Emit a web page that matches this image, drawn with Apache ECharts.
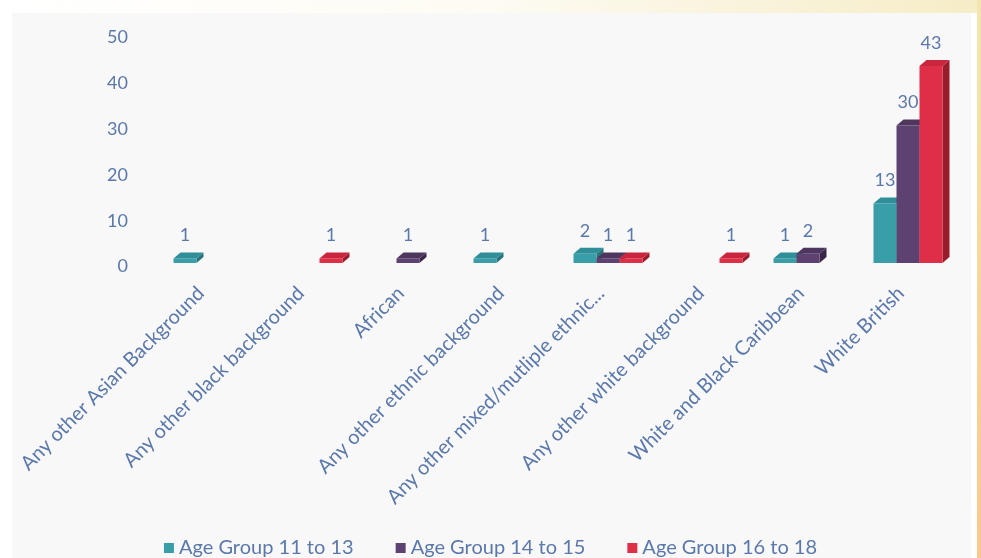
<!DOCTYPE html>
<html>
<head>
<meta charset="utf-8">
<script src="https://cdn.jsdelivr.net/npm/echarts@6/dist/echarts.min.js"></script>
<style>
  html, body { margin: 0; padding: 0; background: #ffffff; }
  #chart { width: 981px; height: 558px; }
</style>
</head>
<body>
<div id="chart"></div>
<script>
// Ethnic background of respondents, counted per age group
const categories = [
  'Any other Asian Background',
  'Any other black background',
  'African',
  'Any other ethnic background',
  'Any other mixed/mutliple ethnic...',
  'Any other white background',
  'White and Black Caribbean',
  'White British'
];
const seriesNames = ['Age Group 11 to 13', 'Age Group 14 to 15', 'Age Group 16 to 18'];
const age11to13 = [1, null, null, 1, 2, null, 1, 13];
const age14to15 = [null, null, 1, null, 1, null, 2, 30];
const age16to18 = [null, 1, null, null, 1, 1, null, 43];
const yTicks = [0, 10, 20, 30, 40, 50];

const TEXT = '#5a78ab';
const FONT = 'Lato, "Open Sans", sans-serif';

// front / top / side shades for each group's 3D column
const shades = [
  { front: '#3a9ea9', top: '#2f8e98', side: '#27747c' },
  { front: '#5d4271', top: '#4e365f', side: '#3a2748' },
  { front: '#df2f48', top: '#c9263d', side: '#9a1c2c' }
];

const DX = 7, DY = -6;

function columnRenderer(idx) {
  const pal = shades[idx];
  return function (params, api) {
    const v = api.value(1);
    if (v == null || isNaN(v)) return null;
    const c = api.value(0);
    const band = api.size([1, 0])[0];
    const bw = band * 0.23;
    const base = api.coord([c, 0]);
    const top = api.coord([c, v]);
    const x0 = base[0] + (idx - 1) * bw - bw / 2;
    const x1 = x0 + bw;
    const yb = base[1];
    const yt = top[1];
    return {
      type: 'group',
      children: [
        { type: 'polygon', shape: { points: [[x1, yt], [x1 + DX, yt + DY], [x1 + DX, yb + DY], [x1, yb]] }, style: { fill: pal.side } },
        { type: 'polygon', shape: { points: [[x0, yt], [x0 + DX, yt + DY], [x1 + DX, yt + DY], [x1, yt]] }, style: { fill: pal.top } },
        { type: 'rect', shape: { x: x0, y: yt, width: bw, height: yb - yt }, style: { fill: pal.front } },
        { type: 'text', z2: 10, style: { text: String(v), x: (x0 + x1) / 2, y: yt + DY - 8, align: 'center', verticalAlign: 'bottom', fill: TEXT, font: '18px ' + FONT } }
      ]
    };
  };
}

const seriesData = [age11to13, age14to15, age16to18];

const chart = echarts.init(document.getElementById('chart'), null, { renderer: 'canvas' });
chart.setOption({
  animation: false,
  backgroundColor: '#ffffff',
  color: shades.map(s => s.front),
  graphic: [
    { type: 'rect', z: -10, shape: { x: 0, y: 0, width: 981, height: 13 },
      style: { fill: new echarts.graphic.LinearGradient(0, 0, 1, 0, [
        { offset: 0, color: '#ffffff' }, { offset: 0.5, color: '#fdfbf3' }, { offset: 1, color: '#f6ecc6' }]) } },
    { type: 'rect', z: -10, shape: { x: 12, y: 13, width: 959, height: 545 }, style: { fill: '#f8f8f8' } },
    { type: 'rect', z: -10, shape: { x: 977, y: 0, width: 4, height: 558 },
      style: { fill: new echarts.graphic.LinearGradient(0, 0, 0, 1, [
        { offset: 0, color: '#f4e6b0' }, { offset: 1, color: '#f9c88e' }]) } }
  ],
  grid: { left: 158, right: 23, top: 34, bottom: 295, containLabel: false },
  legend: {
    bottom: -5,
    left: 'center',
    itemWidth: 10,
    itemHeight: 10,
    itemGap: 42,
    icon: 'rect',
    textStyle: { color: TEXT, fontSize: 20, fontFamily: FONT },
    data: seriesNames
  },
  xAxis: {
    type: 'category',
    data: categories,
    axisLine: { show: false },
    axisTick: { show: false },
    axisLabel: {
      rotate: 45, interval: 0, margin: 20,
      formatter: '{c|{value}}',
      rich: { c: { color: TEXT, fontSize: 20, fontFamily: FONT, padding: [0, 10, 0, 0] } }
    }
  },
  yAxis: {
    type: 'value',
    min: yTicks[0],
    max: yTicks[yTicks.length - 1],
    interval: 10,
    splitLine: { show: false },
    axisLine: { show: false },
    axisTick: { show: false },
    axisLabel: {
      margin: 30,
      formatter: '{t|{value}}',
      rich: { t: { color: TEXT, fontSize: 18, fontFamily: FONT, padding: [7, 0, 0, 0] } }
    }
  },
  series: seriesNames.map((name, i) => ({
    name: name,
    type: 'custom',
    renderItem: columnRenderer(i),
    encode: { x: 0, y: 1 },
    data: seriesData[i].map((v, j) => [j, v])
  }))
});
</script>
</body>
</html>
